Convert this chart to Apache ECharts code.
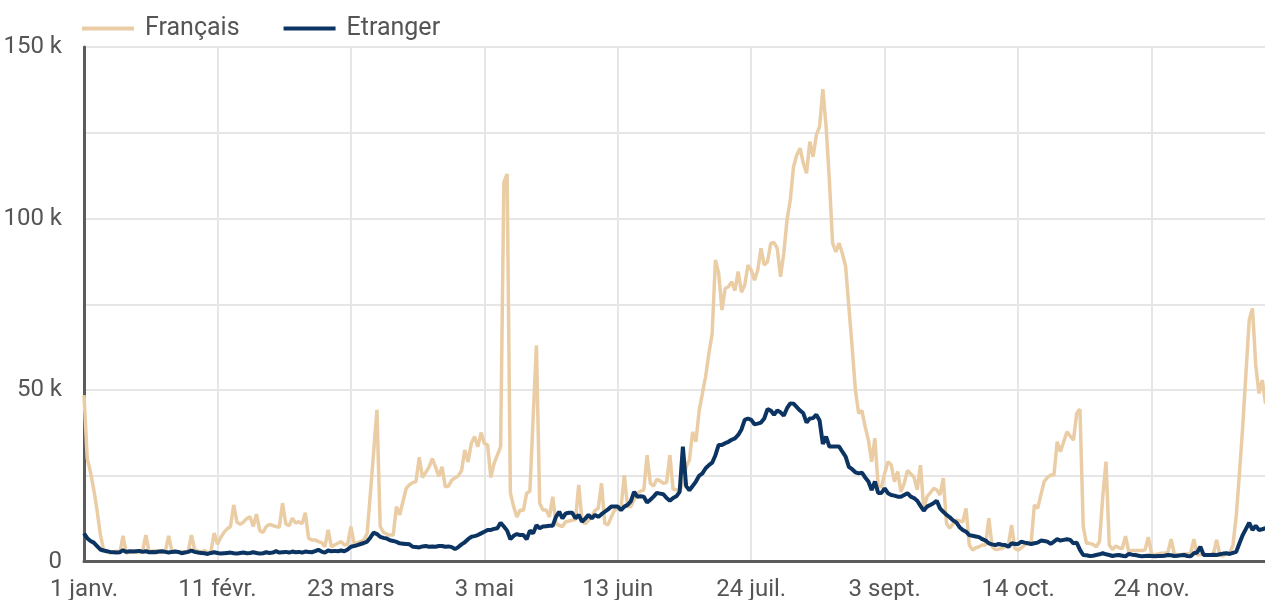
<!DOCTYPE html>
<html lang="fr">
<head>
<meta charset="UTF-8">
<title>Français / Etranger</title>
<script src="https://cdn.jsdelivr.net/npm/echarts@6/dist/echarts.min.js"></script>
<style>
  body { margin: 0; padding: 0; background: #fff; }
  #main { width: 1265px; height: 600px; }
</style>
</head>
<body>
<div id="main"></div>
<script>
// valeurs journalières, en milliers (1 janv. -> 31 déc.)
var francais = [
  48.5,30,26,21,15,8,3.5,3,2.5,2.8,
  3,2.6,7.5,2.4,2.8,3,2.7,2.6,3,7.7,
  2.8,3,3.2,2.8,2.6,3,7.5,3,2.8,2.6,
  2.9,2.7,2.8,7.7,3.5,3,2.8,3.2,2.5,3,
  8.3,5,7,8.5,9.5,10.2,16.5,11.5,10.8,11.5,
  12.5,13,10.2,13.8,9,8.5,10.2,10.8,10.5,10.2,
  10,17,11,10.4,12.6,11.2,11.6,11,14.2,6.8,
  6.3,6.3,5.8,5.5,4.3,9.2,4.3,4.8,5.3,5.8,
  4.8,5,10.2,5.3,5.5,5.8,6.3,8.2,20,32,
  44.2,10.2,8.5,8,7.7,7.7,16,13.6,17.5,21.3,
  22.4,23,23.3,30.4,24.5,26,27.5,30,27.6,24.8,
  27.6,21.8,22,23.7,24.4,25,26.5,32.5,29,34.5,
  36.4,33.5,37.6,34.4,34,24.5,28.6,31,33.5,110.5,
  113,20,16,13,15,14.9,19.9,20.5,42,63,
  17,15,15,13,18.9,11.1,10.5,10.2,11.6,11.8,
  12,12.2,22.3,12,11,12,13,14.9,15.5,22.8,
  11.1,10.7,13,15,15.4,15.8,25.2,16,16,18,
  19.9,20.5,20.9,31,22.8,22,24,23.5,22.8,23,
  31,21,21,20.5,23,27.6,29.6,37.8,34.9,44,
  49,54,60.7,66.5,87.9,84,73.3,79.6,80.1,81.6,
  79,84.5,78.5,80.6,86.4,85,82,85,91.3,86.4,
  87.4,92.8,93,91.3,83,89.9,99.6,105.4,115.1,118.5,
  120.5,116.1,113.2,122.4,118,124.3,126.8,137.7,126.8,111.2,
  92.8,90.3,92.8,89.8,86,74.2,62.6,50,43.2,44,
  39.3,35.4,29.1,35.9,21.8,21.8,25.7,29.1,28.2,23.3,
  26.2,20.3,22.8,26.5,25.6,24.6,20.9,28.1,15.5,18.9,
  20,21.3,20.9,19.4,24.3,11.1,9.7,11,12.1,11.8,
  11.6,15.5,4.8,3.3,4,4.3,4.8,4.8,12.6,4.3,
  3.5,3.6,3.8,4.3,4.8,10.6,3.8,3.3,4,4.8,
  5.3,5.5,16.5,15.5,19.4,23.3,24.5,25.2,25.2,34.9,
  32,34.9,37.8,36.6,35.4,43.2,44.4,10.2,5.3,5.3,
  5,4.3,5.8,18.9,29.1,4.8,3.5,4.5,4,3.8,
  7.4,2.9,3.2,3.2,3.2,3.2,3.4,7.1,2.2,1.9,
  2.2,2.4,2.4,2.6,6.5,2.2,2,1.9,2.2,2.2,
  2.4,6.5,1.9,2,2.2,2,1.9,2.2,6.3,1.9,
  1.6,2.4,2.4,4.8,13.1,25.7,39.3,55,70.4,73.8,
  57.3,49,52.9,46.1,47,45
];
var etranger = [
  8.2,6.8,6,5.5,4.5,3.5,3.2,3,2.8,2.7,
  2.6,2.7,3.3,2.8,3,2.9,3,3.1,2.8,3,
  2.7,2.8,2.7,2.9,3,2.8,2.6,2.8,2.9,2.8,
  2.4,2.6,2.8,3.2,2.8,2.6,2.5,2.4,2.2,2.5,
  2.7,2.5,2.3,2.4,2.5,2.6,2.4,2.3,2.5,2.6,
  2.4,2.5,2.7,2.5,2.3,2.4,2.7,2.5,2.6,3,
  2.6,2.7,2.8,2.6,2.9,2.7,2.8,2.6,2.9,2.8,
  2.7,3,3.4,2.9,2.6,3.2,3,3.1,3,3.2,
  3,3.5,4.3,4.5,4.8,5.1,5.4,5.8,7,8.4,
  8,7.2,6.9,6.7,6.2,6,5.7,5.3,5.2,5.1,
  5,4.3,4.2,4.1,4.4,4.5,4.3,4.4,4.3,4.5,
  4.5,4.3,4.4,4.2,3.6,4.2,5,5.6,6.5,7.2,
  7.4,7.7,8.2,8.7,9.2,9.2,9.5,9.7,11.3,10.2,
  9,6.5,7.5,8,7.7,7.7,6.5,9,8.2,10.6,
  9.7,10.2,10.3,10.4,10.4,13,14.5,12.6,14,14.2,
  14.2,12.6,13.6,11.6,12.5,13.6,12.6,13.6,13,13.8,
  14.5,15.2,16,16,16,15,16,16.5,17.5,20.3,
  18.9,19,18.9,17.2,18,18.9,20,19.8,19.6,18.5,
  17.7,18.5,19,20.3,33.5,22,20.8,22,23.3,25,
  25.7,27.2,28.1,28.8,31,34,34,34.5,34.9,35.5,
  35.9,36.9,38.5,41.3,41.7,41.3,40,40.2,40.5,41.7,
  44.4,44,42.8,44,43.5,42.5,44.7,46.1,46,45,
  44,43.2,40.5,41.7,41.8,42.8,41.1,34.3,36.4,33.5,
  33.5,33.5,33.5,32,30.6,27.6,26.9,26,25.7,25.9,
  24.5,23.3,20.8,23.3,20,20,21.3,19.9,19.4,19.2,
  18.9,18.9,19.4,19.9,18.9,18.5,17.7,16.2,14.8,16,
  16.5,17,17.7,15.5,14.5,13.6,12.9,12,11.4,10,
  9.2,8.7,7.7,7.5,7.3,7.1,6.5,6.1,5.3,5,
  4.8,5.1,4.9,4.8,4.3,5.3,5.1,5.1,5.8,5.5,
  5.3,5.1,5.3,5.5,6.1,6,5.8,5.1,5.8,6.5,
  6.1,6.3,6.5,6.3,5.3,5.5,3.4,1.9,1.8,1.6,
  1.7,1.9,2.1,2.4,2.1,1.9,1.6,1.8,1.9,1.7,
  1.5,2.2,2,1.9,1.7,1.5,1.6,1.7,1.6,1.5,
  1.6,1.6,1.7,1.9,1.8,1.6,1.7,1.8,1.9,1.6,
  1.5,2.4,2.6,4.3,1.9,1.9,1.9,2,1.9,2.1,
  2.3,2.4,2.2,2.5,2.8,5.3,7.7,9.5,11.3,9.2,
  10.4,9.2,9.4,9.7,9.5,9.4
];
var moisNoms = ['janv.','févr.','mars','avr.','mai','juin','juil.','août','sept.','oct.','nov.','déc.'];
var moisJours = [31,29,31,30,31,30,31,31,30,31,30,31];

// categories : "1 janv." ... "31 déc."
var jours = [];
for (var m = 0; m < 12; m++) {
  for (var j = 1; j <= moisJours[m]; j++) {
    jours.push(j + ' ' + moisNoms[m]);
  }
}

var myChart = echarts.init(document.getElementById('main'));
var option = {
  animation: false,
  textStyle: { fontFamily: 'Roboto' },
  legend: {
    data: ['Français', 'Etranger'],
    icon: 'rect',
    left: 77,
    top: 11,
    itemWidth: 52,
    itemHeight: 4,
    itemGap: 44,
    textStyle: { fontSize: 25, color: '#555', padding: [0, 0, 0, 6] }
  },
  // la zone de tracé déborde un peu à droite de la fenêtre
  grid: { left: 84, top: 47, width: 1188, height: 514.5, outerBoundsMode: 'none' },
  xAxis: {
    type: 'category',
    data: jours,
    boundaryGap: false,
    axisLine: { lineStyle: { color: '#5c5c5c', width: 3 } },
    axisTick: { show: false },
    axisLabel: { interval: 40, fontSize: 24, color: '#555', margin: 16 },
    splitLine: { show: true, interval: 40, lineStyle: { color: '#e6e6e6', width: 2 } }
  },
  yAxis: {
    type: 'value',
    min: 0,
    max: 150,
    interval: 25,
    axisLine: { show: true, lineStyle: { color: '#5c5c5c', width: 3 } },
    axisTick: { show: false },
    splitLine: { lineStyle: { color: '#e6e6e6', width: 2 } },
    axisLabel: {
      fontSize: 24,
      color: '#555',
      margin: 22,
      formatter: function (v) {
        if (v % 50) return '';
        return v === 0 ? '0' : v + ' k';
      }
    }
  },
  series: [
    {
      name: 'Français',
      type: 'line',
      symbol: 'none',
      data: francais,
      itemStyle: { color: '#eacda5' },
      lineStyle: { color: '#eacda5', width: 3.5 }
    },
    {
      name: 'Etranger',
      type: 'line',
      symbol: 'none',
      data: etranger,
      itemStyle: { color: '#0c3462' },
      lineStyle: { color: '#0c3462', width: 4 }
    }
  ]
};
myChart.setOption(option);
</script>
</body>
</html>
